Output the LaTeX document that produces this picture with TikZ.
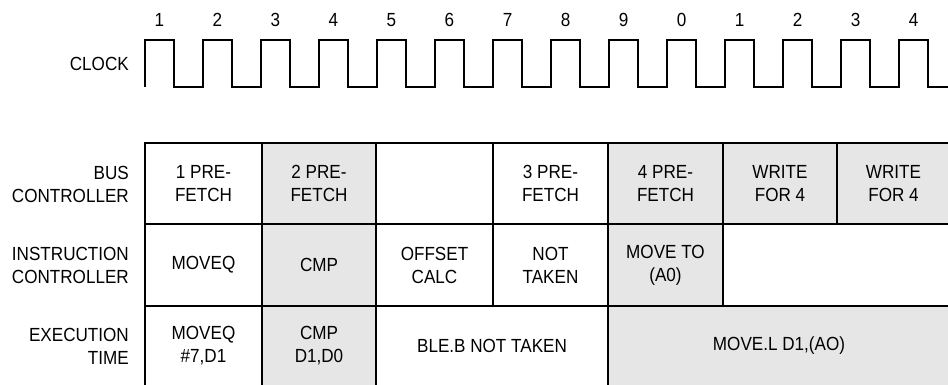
\documentclass[tikz,border=0pt]{standalone}
\usepackage{fontspec}
\setmainfont[FakeStretch=0.9]{Liberation Sans}
\definecolor{cellgrey}{HTML}{E6E6E6}
\tikzset{
  cell/.style={draw, line width=1.9pt, inner sep=0pt, align=center},
  shaded/.style={cell, fill=cellgrey},
  rowlabel/.style={anchor=east, align=right, inner sep=0pt},
  wave/.style={line width=1.9pt, line join=miter}
}
\begin{document}
\begin{tikzpicture}[x=1pt, y=-1pt, font=\fontsize{19}{23}\selectfont]
\useasboundingbox (0,0) rectangle (948,384);

% Clock numbers and waveform
\foreach \n [count=\k from 0] in {1,2,3,4,5,6,7,8,9,0,1,2,3,4}
  \node (num\k) at (159.5+58*\k,20) {\n};
\node[rowlabel] (clock) at (129,63.5) {CLOCK};
\draw[wave] (145,87) foreach \k in {0,...,13} { -- ++(0,-47) -- ++(29,0) -- ++(0,47) -- ++(29,0) };

% Row labels
\node[rowlabel] (busl) at (129,184) {BUS\\CONTROLLER};
\node[rowlabel] (insl) at (129,265) {INSTRUCTION\\CONTROLLER};
\node[rowlabel] (exel) at (129,346) {EXECUTION\\TIME};

% Bus controller row
\node[cell, minimum width=117pt, minimum height=81pt] (bus1) at (203.5,183.5) {1 PRE-\\FETCH};
\node[shaded, minimum width=114pt, minimum height=81pt] (bus2) at (319,183.5) {2 PRE-\\FETCH};
\node[cell, minimum width=117pt, minimum height=81pt] (bus3) at (434.5,183.5) {};
\node[cell, minimum width=115pt, minimum height=81pt] (bus4) at (550.5,183.5) {3 PRE-\\FETCH};
\node[shaded, minimum width=115pt, minimum height=81pt] (bus5) at (665.5,183.5) {4 PRE-\\FETCH};
\node[shaded, minimum width=114pt, minimum height=81pt] (bus6) at (780,183.5) {WRITE\\FOR 4};
\node[shaded, minimum width=113pt, minimum height=81pt] (bus7) at (893.5,183.5) {WRITE\\FOR 4};

% Instruction controller row
\node[cell, minimum width=117pt, minimum height=82pt] (ins1) at (203.5,265) {MOVEQ};
\node[shaded, minimum width=114pt, minimum height=82pt] (ins2) at (319,265) {CMP};
\node[cell, minimum width=117pt, minimum height=82pt] (ins3) at (434.5,265) {OFFSET\\CALC};
\node[cell, minimum width=115pt, minimum height=82pt] (ins4) at (550.5,265) {NOT\\TAKEN};
\node[shaded, minimum width=115pt, minimum height=82pt] (ins5) at (665.5,265) {MOVE TO\\(A0)};
\node[cell, minimum width=227pt, minimum height=82pt] (ins6) at (836.5,265) {};

% Execution time row
\node[cell, minimum width=117pt, minimum height=80pt] (exe1) at (203.5,346) {MOVEQ\\\#7,D1};
\node[shaded, minimum width=114pt, minimum height=80pt] (exe2) at (319,346) {CMP\\D1,D0};
\node[cell, minimum width=232pt, minimum height=80pt] (exe3) at (492,346) {BLE.B NOT TAKEN};
\node[shaded, minimum width=342pt, minimum height=80pt] (exe4) at (779,346) {MOVE.L D1,(AO)};

\end{tikzpicture}
\end{document}
